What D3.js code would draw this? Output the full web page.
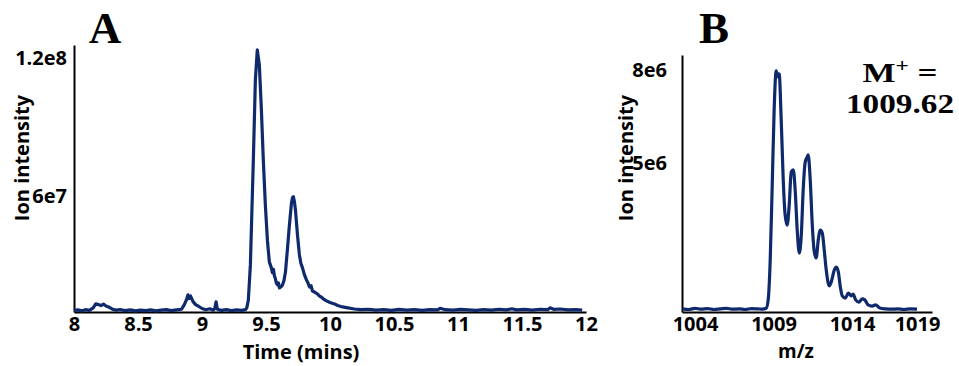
<!DOCTYPE html>
<html>
<head>
<meta charset="utf-8">
<script src="https://cdn.jsdelivr.net/npm/d3@7"></script>
<style>
  html, body { margin: 0; padding: 0; background: #ffffff; }
  svg { display: block; }
  .tick text { font-family: "Open Sans", Lato, sans-serif; font-weight: 700; fill: #000; }
  .lbl { font-family: "Open Sans", Lato, sans-serif; font-weight: 700; fill: #000; }
  .serif { font-family: "Liberation Serif", "Times New Roman", serif; font-weight: 700; fill: #000; }
</style>
</head>
<body>
<svg id="chart" width="959" height="366"></svg>
<script>
// ---------- Panel A: chromatogram ----------
const timeA = [
  8.00, 8.03, 8.06, 8.09, 8.12, 8.15, 8.17, 8.19, 8.21, 8.23, 8.25, 8.27, 8.30, 8.33, 8.36,
  8.40, 8.44, 8.48, 8.52, 8.56, 8.60, 8.64, 8.68, 8.72, 8.76, 8.80, 8.84, 8.86, 8.88, 8.89,
  8.90, 8.91, 8.93, 8.95, 8.97, 9.00, 9.03, 9.06, 9.09, 9.10, 9.11, 9.12, 9.15, 9.19, 9.23,
  9.27, 9.31, 9.34, 9.35, 9.362, 9.378, 9.401, 9.417, 9.432, 9.448, 9.464, 9.479, 9.495, 9.511,
  9.526, 9.542, 9.550, 9.558, 9.566, 9.573, 9.581, 9.589, 9.597, 9.605, 9.617, 9.628, 9.640, 9.652,
  9.667, 9.683, 9.699, 9.707, 9.714, 9.722, 9.730, 9.746, 9.761, 9.773, 9.785, 9.800, 9.816, 9.828,
  9.840, 9.852, 9.863, 9.880, 9.902, 9.918, 9.933, 9.950, 9.973, 10.00, 10.035, 10.06, 10.098, 10.14,
  10.19, 10.24, 10.30, 10.36, 10.42, 10.48, 10.54, 10.60, 10.66, 10.72, 10.78, 10.84, 10.86, 10.90,
  10.96, 11.02, 11.08, 11.14, 11.20, 11.26, 11.32, 11.38, 11.42, 11.46, 11.52, 11.58, 11.64, 11.70,
  11.72, 11.75, 11.80, 11.86, 11.92, 11.97
];
const intensityA = [
  10.6e6, 10.9e6, 10.5e6, 11.0e6, 10.7e6, 11.8e6, 13.5e6, 13.2e6, 12.8e6, 13.4e6, 12.6e6, 12.2e6, 11.2e6, 10.8e6, 11.1e6,
  10.6e6, 10.9e6, 10.5e6, 10.8e6, 10.6e6, 10.9e6, 10.5e6, 10.8e6, 11.0e6, 10.6e6, 10.9e6, 11.2e6, 13.0e6, 15.5e6, 17.4e6,
  15.8e6, 17.0e6, 14.5e6, 13.2e6, 12.6e6, 11.5e6, 11.0e6, 11.4e6, 10.8e6, 11.6e6, 14.4e6, 11.2e6, 10.7e6, 11.0e6, 10.6e6,
  10.9e6, 10.7e6, 11.0e6, 11.8e6, 15.2e6, 30.4e6, 75.8e6, 110.5e6, 123.5e6, 117.0e6, 97.5e6, 75.8e6, 56.3e6, 41.1e6,
  31.7e6, 29.1e6, 27.0e6, 28.5e6, 25.5e6, 24.5e6, 22.5e6, 21.8e6, 22.6e6, 20.4e6, 20.9e6, 21.6e6, 23.5e6, 27.3e6,
  36.9e6, 47.7e6, 57.2e6, 59.6e6, 59.9e6, 57.8e6, 54.2e6, 43.3e6, 34.7e6, 31.0e6, 29.1e6, 26.2e6, 23.9e6, 22.6e6,
  20.8e6, 21.4e6, 19.1e6, 18.6e6, 17.8e6, 16.9e6, 16.4e6, 15.6e6, 14.8e6, 14.1e6, 13.5e6, 12.8e6, 12.2e6, 11.8e6,
  11.3e6, 11.0e6, 11.2e6, 10.8e6, 11.0e6, 10.7e6, 11.1e6, 10.8e6, 11.0e6, 10.7e6, 11.0e6, 10.9e6, 11.6e6, 11.0e6,
  10.8e6, 11.1e6, 10.9e6, 10.7e6, 11.0e6, 10.8e6, 11.2e6, 10.9e6, 11.4e6, 10.9e6, 11.1e6, 10.8e6, 11.2e6, 11.0e6,
  11.8e6, 11.1e6, 11.3e6, 10.9e6, 11.0e6, 10.8e6
];
const xTicksA = [8, 8.5, 9, 9.5, 10, 10.5, 11, 11.5, 12];
const xTickLabelsA = ["8", "8.5", "9", "9.5", "10", "10.5", "11", "11.5", "12"];
const yTicksA = [6e7, 1.2e8];
const yTickLabelsA = ["6e7", "1.2e8"];

// ---------- Panel B: mass spectrum ----------
const mzB = [
  1003.2, 1003.6, 1004.0, 1004.4, 1004.8, 1005.2, 1005.6, 1006.0, 1006.4, 1006.8, 1007.2, 1007.6,
  1008.0, 1008.3, 1008.53, 1008.66, 1008.79, 1008.91, 1009.04, 1009.17, 1009.27, 1009.36, 1009.49,
  1009.62, 1009.74, 1009.87, 1010.0, 1010.13, 1010.26, 1010.38, 1010.51, 1010.64, 1010.77, 1010.89,
  1011.02, 1011.15, 1011.21, 1011.34, 1011.47, 1011.6, 1011.72, 1011.85, 1011.98, 1012.11, 1012.23,
  1012.36, 1012.55, 1012.68, 1012.87, 1013.0, 1013.13, 1013.26, 1013.38, 1013.57, 1013.77, 1013.96,
  1014.08, 1014.28, 1014.53, 1014.79, 1014.98, 1015.23, 1015.55, 1015.81, 1016.13, 1016.57, 1017.08,
  1017.5, 1018.0, 1018.5, 1019.0
];
const intensityB = [
  0.30e6, 0.28e6, 0.32e6, 0.29e6, 0.31e6, 0.28e6, 0.30e6, 0.32e6, 0.29e6, 0.30e6, 0.28e6, 0.31e6,
  0.30e6, 0.29e6, 0.32e6, 0.59e6, 1.88e6, 4.13e6, 6.71e6, 7.97e6, 7.78e6, 7.87e6, 6.39e6,
  4.45e6, 3.33e6, 3.00e6, 3.65e6, 4.71e6, 4.78e6, 4.13e6, 2.84e6, 2.10e6, 2.68e6, 4.13e6,
  5.03e6, 5.20e6, 5.26e6, 4.45e6, 3.00e6, 2.13e6, 1.94e6, 2.52e6, 2.84e6, 2.74e6, 2.20e6,
  1.55e6, 1.04e6, 1.17e6, 1.55e6, 1.65e6, 1.49e6, 1.00e6, 0.72e6, 0.65e6, 0.81e6, 0.72e6,
  0.78e6, 0.59e6, 0.52e6, 0.62e6, 0.59e6, 0.43e6, 0.39e6, 0.43e6, 0.33e6, 0.30e6, 0.29e6,
  0.30e6, 0.28e6, 0.30e6, 0.29e6
];
const xTicksB = [1004, 1009, 1014, 1019];
const xTickLabelsB = ["1004", "1009", "1014", "1019"];
const yTicksB = [5e6, 8e6];
const yTickLabelsB = ["5e6", "8e6"];

const lineColor = "#0f2a6c";
const svg = d3.select("#chart");

function fmt(ticks, labels) { return v => labels[ticks.indexOf(v)]; }

// ---- Panel A ----
const xA = d3.scaleLinear().domain([8, 12]).range([74, 586]);
const yA = d3.scaleLinear().domain([1.0e7, 1.256e8]).range([312, 45]);

const gA = svg.append("g");
gA.append("g").attr("transform", "translate(0,312)")
  .call(d3.axisBottom(xA).tickValues(xTicksA).tickFormat(fmt(xTicksA, xTickLabelsA)).tickSize(0).tickPadding(5))
  .call(g => g.select(".domain").attr("stroke", "#000").attr("stroke-width", 2))
  .call(g => g.selectAll(".tick text").attr("font-size", 20));
gA.append("g").attr("transform", "translate(74,0)")
  .call(d3.axisLeft(yA).tickValues(yTicksA).tickFormat(fmt(yTicksA, yTickLabelsA)).tickSize(0).tickPadding(7))
  .call(g => g.select(".domain").attr("stroke", "#000").attr("stroke-width", 2))
  .call(g => g.selectAll(".tick text").attr("font-size", 20));

gA.append("path")
  .datum(timeA.map((t, i) => [t, intensityA[i]]))
  .attr("fill", "none").attr("stroke", lineColor).attr("stroke-width", 3.2)
  .attr("stroke-linejoin", "round")
  .attr("d", d3.line().x(d => xA(d[0])).y(d => yA(d[1])));

gA.append("text").attr("class", "lbl").attr("font-size", 20)
  .attr("text-anchor", "middle")
  .attr("transform", "translate(29,158) rotate(-90)").text("Ion intensity");
gA.append("text").attr("class", "lbl").attr("font-size", 20)
  .attr("text-anchor", "middle").attr("x", 301).attr("y", 359).text("Time (mins)");
gA.append("text").attr("class", "serif").attr("font-size", 45)
  .attr("text-anchor", "middle").attr("x", 105).attr("y", 43).text("A");

// ---- Panel B ----
const xB = d3.scaleLinear().domain([1003.17, 1014, 1019, 1020.15]).range([682, 852, 917, 932]);
const yB = d3.scaleLinear().domain([0.2e6, 8.48e6]).range([312, 55]);

const gB = svg.append("g");
gB.append("g").attr("transform", "translate(0,312)")
  .call(d3.axisBottom(xB).tickValues(xTicksB).tickFormat(fmt(xTicksB, xTickLabelsB)).tickSize(0).tickPadding(5))
  .call(g => g.select(".domain").attr("stroke", "#000").attr("stroke-width", 2))
  .call(g => g.selectAll(".tick text").attr("font-size", 20));
gB.append("g").attr("transform", "translate(682,0)")
  .call(d3.axisLeft(yB).tickValues(yTicksB).tickFormat(fmt(yTicksB, yTickLabelsB)).tickSize(0).tickPadding(15))
  .call(g => g.select(".domain").attr("stroke", "#000").attr("stroke-width", 2))
  .call(g => g.selectAll(".tick text").attr("font-size", 20));

gB.append("path")
  .datum(mzB.map((m, i) => [m, intensityB[i]]))
  .attr("fill", "none").attr("stroke", lineColor).attr("stroke-width", 3.2)
  .attr("stroke-linejoin", "round")
  .attr("d", d3.line().curve(d3.curveMonotoneX).x(d => xB(d[0])).y(d => yB(d[1])));

gB.append("text").attr("class", "lbl").attr("font-size", 20)
  .attr("text-anchor", "middle")
  .attr("transform", "translate(633,158) rotate(-90)").text("Ion intensity");
gB.append("text").attr("class", "lbl").attr("font-size", 19)
  .attr("text-anchor", "middle").attr("x", 796).attr("y", 358).text("m/z");
gB.append("text").attr("class", "serif").attr("font-size", 45)
  .attr("text-anchor", "middle").attr("x", 714).attr("y", 43).text("B");

const mt = gB.append("text").attr("class", "serif").attr("font-size", 27)
  .attr("text-anchor", "middle").attr("x", 900).attr("y", 82)
  .attr("textLength", 75).attr("lengthAdjust", "spacingAndGlyphs");
mt.append("tspan").text("M");
mt.append("tspan").attr("font-size", 18).attr("dy", -10).text("+");
mt.append("tspan").attr("dy", 10).text(" =");
gB.append("text").attr("class", "serif").attr("font-size", 27)
  .attr("text-anchor", "middle").attr("x", 900).attr("y", 113)
  .attr("textLength", 108).attr("lengthAdjust", "spacingAndGlyphs").text("1009.62");
</script>
</body>
</html>
